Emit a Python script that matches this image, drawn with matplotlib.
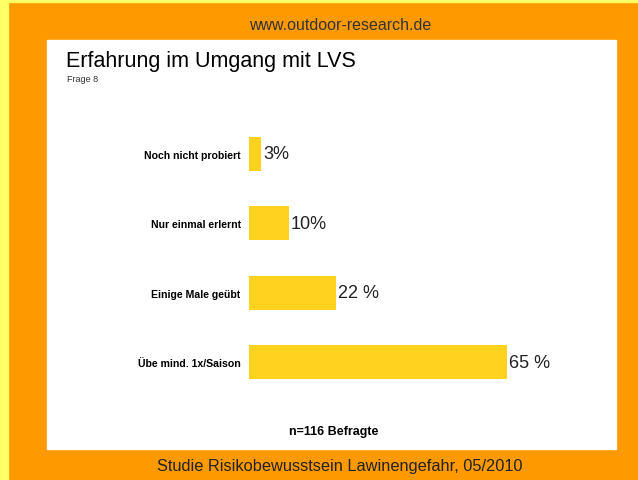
import matplotlib
matplotlib.use('Agg')
import matplotlib.pyplot as plt
from matplotlib.patches import Rectangle

plt.rcParams['font.family'] = ['Liberation Sans', 'DejaVu Sans']

# Daten
kategorien = ['Noch nicht probiert', 'Nur einmal erlernt', 'Einige Male geübt', 'Übe mind. 1x/Saison']
werte = [3, 10, 22, 65]
wert_labels = ['3%', '10%', '22 %', '65 %']

W, H = 638, 481
fig = plt.figure(figsize=(W / 100, H / 100), dpi=100)
fig.patch.set_facecolor('#FF9900')

# gelber Rand links/oben und weisses Feld
fig.patches.append(Rectangle((0, 0), 8 / W, 1, transform=fig.transFigure, color='#FFFF66', zorder=0))
fig.patches.append(Rectangle((0, 1 - 3 / H), 1, 3 / H, transform=fig.transFigure, color='#FFFF66', zorder=0))
fig.patches.append(Rectangle((47 / W, 1 - 450 / H), (616 - 47) / W, (450 - 41) / H,
                             transform=fig.transFigure, color='white', zorder=0))

fig.text(340 / W, 1 - 25 / H, 'www.outdoor-research.de', ha='center', va='center', fontsize=11.5, color='#333333')
fig.text(66 / W, 1 - 62 / H, 'Erfahrung im Umgang mit LVS', ha='left', va='center', fontsize=15.5, color='black')
fig.text(67 / W, 1 - 80 / H, 'Frage 8', ha='left', va='center', fontsize=6.5, color='#333333')
fig.text(334 / W, 1 - 432 / H, 'n=116 Befragte', ha='center', va='center', fontsize=9, fontweight='bold')
fig.text(340 / W, 1 - 466 / H, 'Studie Risikobewusstsein Lawinengefahr, 05/2010', ha='center', va='center',
         fontsize=11.8, color='#222222')

# Balken
ax = fig.add_axes([249 / W, 1 - 398 / H, (616 - 249) / W, 278 / H])
ax.set_zorder(2)
ax.set_facecolor('none')
pos = list(range(len(werte)))
ax.barh(pos, werte, height=0.49, color='#FFD21F')
for p, v, t in zip(pos, werte, wert_labels):
    ax.text(v + 0.5, p, t, ha='left', va='center', fontsize=13, color='#222222')
ax.set_xlim(0, (616 - 249) / 3.97)
ax.set_ylim(3.5, -0.5)
ax.set_yticks(pos)
ax.set_yticklabels(kategorien, fontsize=7.6, fontweight='bold')
ax.tick_params(axis='y', length=0, pad=6)
ax.set_xticks([])
for s in ax.spines.values():
    s.set_visible(False)

plt.savefig('out.png', dpi=100, facecolor=fig.get_facecolor())
